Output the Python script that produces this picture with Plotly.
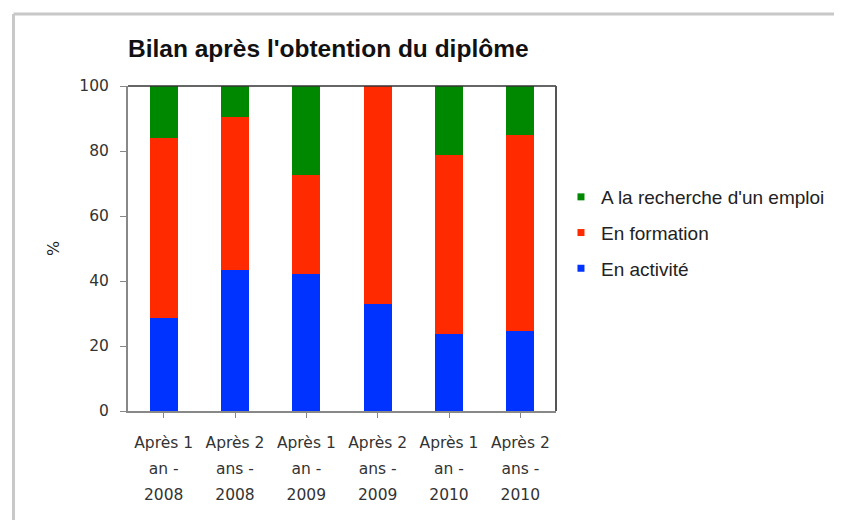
import plotly.graph_objects as go

categories = ["Après 1|an -|2008", "Après 2|ans -|2008", "Après 1|an -|2009",
              "Après 2|ans -|2009", "Après 1|an -|2010", "Après 2|ans -|2010"]
en_activite = [28.6, 43.4, 42.2, 33.0, 23.7, 24.6]
en_formation = [55.5, 47.2, 30.4, 67.0, 55.0, 60.3]
recherche = [15.9, 9.4, 27.4, 0.0, 21.3, 15.1]
series_names = ["En activité", "En formation", "A la recherche d'un emploi"]
colors = ["#0033ff", "#ff2a00", "#008800"]
y_ticks = [0, 20, 40, 60, 80, 100]

TICK_FONT = "DejaVu Sans, Verdana, sans-serif"

def fmt(label):
    return "<br>".join(f"<span style='font-size:15.5px'>{p}</span>" for p in label.split("|"))

x_idx = list(range(len(categories)))
tick_text = [fmt(c) for c in categories]

fig = go.Figure()
for i, (name, vals) in enumerate(zip(series_names, [en_activite, en_formation, recherche])):
    fig.add_trace(go.Bar(x=x_idx, y=vals, name=name, marker=dict(color=colors[i], line=dict(width=0)),
                         width=0.39, showlegend=False))
# legend entries (small square swatches), green first
for i in [2, 1, 0]:
    fig.add_trace(go.Scatter(x=[None], y=[None], mode="markers", name=series_names[i],
                             marker=dict(symbol="square", size=7, color=colors[i]),
                             legendgroup=f"g{i}", legendrank=3 - i, showlegend=True))

# page has an 8px body margin: figure coordinates = reference pixels - 8
OFF = 8
W, H = 842 - OFF, 520 - OFF
L, R, T, B = 128 - OFF, 558 - OFF, 86 - OFF, 411 - OFF
px = lambda v: (v - OFF - L) / (R - L)
py = lambda v: (B - (v - OFF)) / (B - T)

fig.update_layout(
    width=W, height=H, barmode="stack",
    margin=dict(l=L, r=W - R, t=T, b=H - B, pad=0),
    paper_bgcolor="white", plot_bgcolor="white",
    font=dict(family=TICK_FONT, color="#333333"),
    title=dict(text="<b>Bilan après l'obtention du diplôme</b>", x=(128 - OFF) / W, xanchor="left",
               y=1 - (48 - OFF) / H, yanchor="middle",
               font=dict(family="Liberation Sans, Arial", size=24.5, color="#111111")),
    showlegend=True,
    legend=dict(x=px(603 - 40), xanchor="left", y=py(178), yanchor="top",
                traceorder="grouped", tracegroupgap=8,
                font=dict(family="Liberation Sans, Arial", size=19, color="#222222"),
                itemwidth=30, bgcolor="rgba(0,0,0,0)"),
)
fig.update_xaxes(range=[-0.5, 5.5], tickmode="array", tickvals=x_idx, ticktext=tick_text,
                 tickson="boundaries", ticks="outside", ticklen=5, tickcolor="#888888",
                 showline=True, linecolor="#888888", linewidth=2, showgrid=False,
                 tickfont=dict(size=20, color="#333333"), zeroline=False, ticklabelstandoff=6)
fig.update_yaxes(range=[0, 100], tickvals=y_ticks, ticks="outside", ticklen=6, tickcolor="#888888",
                 showline=True, linecolor="#888888", linewidth=2, showgrid=False, zeroline=False,
                 tickfont=dict(size=15.5, color="#333333"), ticklabelstandoff=8,
                 title=dict(text="%", standoff=16, font=dict(size=16, color="#222222")))
# top and right dark frame
fig.add_shape(type="line", xref="paper", yref="paper", x0=0, x1=1, y0=1, y1=1,
              line=dict(color="#333333", width=1.5))
fig.add_shape(type="line", xref="paper", yref="paper", x0=1, x1=1, y0=0, y1=1,
              line=dict(color="#555555", width=2))
# outer gray frame
fig.add_shape(type="line", xref="paper", yref="paper", x0=px(13), x1=px(900), y0=py(14), y1=py(14),
              line=dict(color="#c8c8c8", width=3))
fig.add_shape(type="line", xref="paper", yref="paper", x0=px(13), x1=px(13), y0=py(14), y1=py(600),
              line=dict(color="#c8c8c8", width=3))

fig.write_html("out.html")
